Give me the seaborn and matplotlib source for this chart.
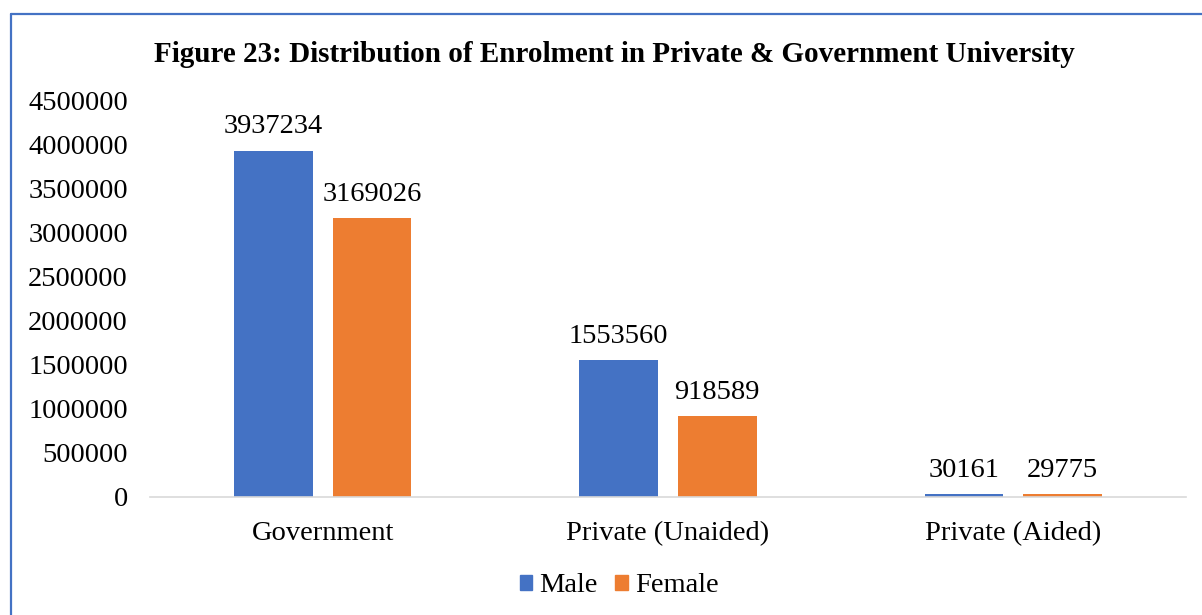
import matplotlib
matplotlib.use("Agg")
import matplotlib.pyplot as plt
import pandas as pd
import seaborn as sns
from matplotlib.lines import Line2D

categories = ["Government", "Private (Unaided)", "Private (Aided)"]
male = [3937234, 1553560, 30161]
female = [3169026, 918589, 29775]
series = ["Male", "Female"]
yticks = [0, 500000, 1000000, 1500000, 2000000, 2500000, 3000000, 3500000, 4000000, 4500000]

df = pd.DataFrame({
    "Category": categories * 2,
    "Gender": ["Male"] * 3 + ["Female"] * 3,
    "Enrolment": male + female,
})

sns.set_style("white")
plt.rcParams["font.family"] = ["Liberation Serif", "DejaVu Serif"]
plt.rcParams["text.color"] = "black"
plt.rcParams["xtick.color"] = "black"
plt.rcParams["ytick.color"] = "black"

fig = plt.figure(figsize=(12.02, 6.15), dpi=100)
ax = fig.add_axes([150 / 1202, 1 - 497 / 615, 1036 / 1202, 396 / 615])

sns.barplot(data=df, x="Category", y="Enrolment", hue="Gender",
            hue_order=series, palette=["#4472C4", "#ED7D31"], saturation=1,
            width=0.57, gap=0.2, linewidth=0, ax=ax, legend=False)

fs = 20.5
for cont in ax.containers:
    ax.bar_label(cont, labels=[str(int(v)) for v in cont.datavalues],
                 padding=8, fontsize=fs, color="black")

ax.set_ylim(0, 4500000)
ax.set_xlim(-0.5, 2.5)
ax.set_yticks(yticks)
ax.set_yticklabels([str(t) for t in yticks])
ax.tick_params(axis="y", labelsize=fs, length=0, pad=16)
ax.tick_params(axis="x", labelsize=fs, length=0, pad=17)
ax.set_xlabel("")
ax.set_ylabel("")
for s in ["top", "right", "left"]:
    ax.spines[s].set_visible(False)
ax.spines["bottom"].set_color("#D9D9D9")
ax.spines["bottom"].set_linewidth(1.2)

fig.text(614 / 1202, 1 - 54 / 615,
         "Figure 23: Distribution of Enrolment in Private & Government University",
         ha="center", va="center", fontsize=21, fontweight="bold", color="black")

handles = [plt.Rectangle((0, 0), 1, 1, color=c) for c in ["#4472C4", "#ED7D31"]]
fig.legend(handles, series, loc="center", bbox_to_anchor=(619 / 1202, 1 - 586 / 615),
           ncol=2, frameon=False, fontsize=fs, handlelength=0.45, handleheight=0.45,
           handletextpad=0.25, columnspacing=0.6)

# outer border of the chart box
bc = "#4472C4"
fig.add_artist(Line2D([11 / 1202, 1], [1 - 14 / 615, 1 - 14 / 615], color=bc, lw=1.6,
                      transform=fig.transFigure))
fig.add_artist(Line2D([11 / 1202, 11 / 1202], [0, 1 - 14 / 615], color=bc, lw=1.6,
                      transform=fig.transFigure))

fig.savefig("out.png", dpi=100)
